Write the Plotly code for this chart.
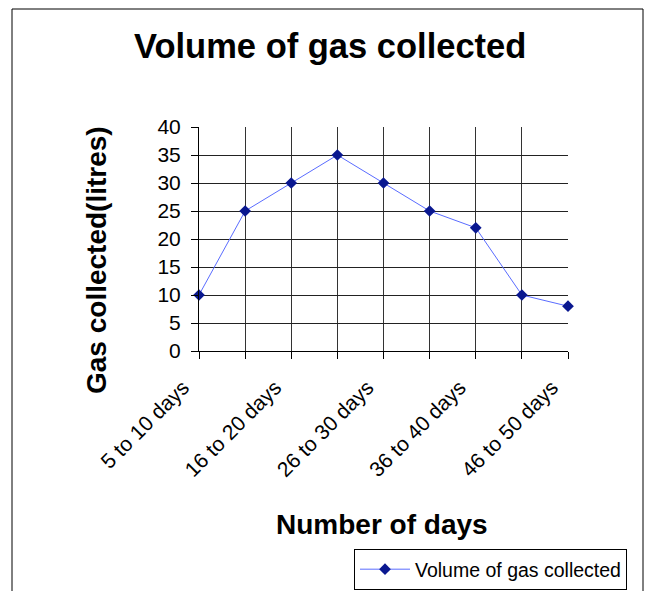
import plotly.graph_objects as go

categories = ["5 to 10 days", "11 to 15 days", "16 to 20 days", "21 to 25 days",
              "26 to 30 days", "31 to 35 days", "36 to 40 days", "41 to 45 days",
              "46 to 50 days"]
gas_volume = [10, 25, 30, 35, 30, 25, 22, 10, 8]
tick_labels = ["5 to 10 days", "", "16 to 20 days", "", "26 to 30 days", "",
               "36 to 40 days", "", "46 to 50 days"]
y_ticks = [0, 5, 10, 15, 20, 25, 30, 35, 40]

FONT = "Arial, Liberation Sans, sans-serif"

# page has an 8px body margin; plot area target: x 199..568, y 127..351
PL, PT, PW, PH = 199, 127, 369, 224


def px(x):
    return (x - PL) / PW


def py(y):
    return (PT + PH - y) / PH


fig = go.Figure()
fig.add_trace(go.Scatter(
    x=categories, y=gas_volume, mode="lines+markers",
    name="Volume of gas collected",
    line=dict(color="#5a6cff", width=1),
    marker=dict(symbol="diamond", size=9, color="#0a1890"),
    cliponaxis=False,
))

fig.update_layout(
    width=644, height=583,
    margin=dict(l=PL - 8, r=644 - (PL - 8) - PW, t=PT - 8, b=583 - (PT - 8) - PH,
                autoexpand=False),
    paper_bgcolor="white", plot_bgcolor="white",
    font=dict(family=FONT, color="black"),
    showlegend=True,
    legend=dict(x=px(354), y=py(549), xanchor="left", yanchor="top",
                bordercolor="black", borderwidth=1, bgcolor="white",
                font=dict(size=19.5, family=FONT), itemwidth=50),
    xaxis=dict(type="category", categoryorder="array", categoryarray=categories,
               range=[0, 8], tickmode="array", tickvals=categories, ticktext=tick_labels,
               tickangle=-45, tickfont=dict(size=21, family=FONT),
               ticklabelstandoff=8, ticklabelshift=-16,
               showgrid=True, gridcolor="#333", gridwidth=1,
               ticks="outside", ticklen=7, tickcolor="black",
               showline=True, linecolor="black", linewidth=1,
               zeroline=False, automargin=False),
    yaxis=dict(range=[0, 40], tickvals=y_ticks, tickfont=dict(size=21, family=FONT),
               showgrid=True, gridcolor="#222", gridwidth=1,
               ticks="outside", ticklen=7, tickcolor="black",
               showline=True, linecolor="black", linewidth=1,
               zeroline=False, ticklabelstandoff=6, automargin=False),
    shapes=[dict(type="rect", xref="paper", yref="paper",
                 x0=px(12), x1=px(643), y0=py(600), y1=py(9),
                 line=dict(color="black", width=1))],
    annotations=[
        dict(text="<b>Volume of gas collected</b>", xref="paper", yref="paper",
             x=px(330), y=py(46), xanchor="center", yanchor="middle",
             showarrow=False, font=dict(size=34.5, family=FONT)),
        dict(text="<b>Gas collected(litres)</b>", xref="paper", yref="paper",
             x=px(96), y=py(260), xanchor="center", yanchor="middle",
             textangle=-90, showarrow=False, font=dict(size=28, family=FONT)),
        dict(text="<b>Number of days</b>", xref="paper", yref="paper",
             x=px(382), y=py(524), xanchor="center", yanchor="middle",
             showarrow=False, font=dict(size=28, family=FONT)),
    ],
)

fig.write_html("out.html")
